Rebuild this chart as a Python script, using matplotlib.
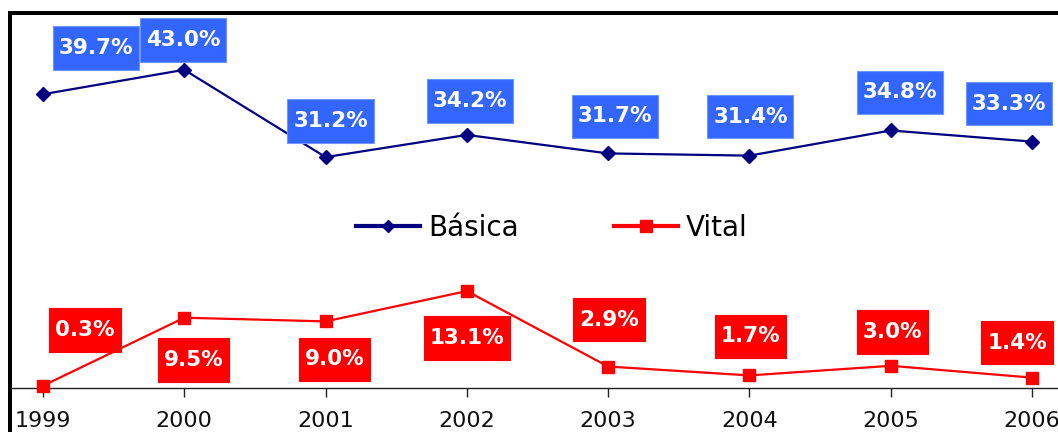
import matplotlib
matplotlib.use("Agg")
import matplotlib.pyplot as plt
from matplotlib.lines import Line2D
from matplotlib.path import Path

years = [1999, 2000, 2001, 2002, 2003, 2004, 2005, 2006]
basica = [39.7, 43.0, 31.2, 34.2, 31.7, 31.4, 34.8, 33.3]
vital = [0.3, 9.5, 9.0, 13.1, 2.9, 1.7, 3.0, 1.4]

# label offsets in pixels from each point
basica_off = [(53, 46), (-1, 30), (5, 36), (3, 34), (7, 37), (1, 39), (9, 38), (-23, 38)]
vital_off = [(42, 56), (9, -42), (9, -38), (0, -47), (1, 47), (1, 39), (2, 34), (-15, 35)]

NAVY = "#000080"
BLUE_BOX = "#3366FF"
RED = "#FF0000"


def label_box(x0, y0, width, height, mutation_size):
    # rectangle with more vertical than horizontal padding
    px = 0.27 * mutation_size
    py = 0.55 * mutation_size
    x0, x1 = x0 - px, x0 + width + px
    y0, y1 = y0 - py, y0 + height + py
    verts = [(x0, y0), (x1, y0), (x1, y1), (x0, y1), (x0, y0)]
    codes = [Path.MOVETO, Path.LINETO, Path.LINETO, Path.LINETO, Path.CLOSEPOLY]
    return Path(verts, codes)


W, H = 1058, 432
fig = plt.figure(figsize=(W / 100, H / 100), dpi=100)
fig.patch.set_facecolor("white")

# plot area: zero line at y=388px, top at 15px
ax = fig.add_axes([12 / W, (H - 388) / H, (W - 12) / W, (388 - 15) / H])
ax.set_xlim(1999 - 31 / 141.3, 2006 + 26 / 141.3)
ax.set_ylim(0, (388 - 15) / 7.4)

ax.plot(years, basica, color=NAVY, lw=1.6, marker="D", ms=7, clip_on=False, zorder=3)
ax.plot(years, vital, color=RED, lw=1.6, marker="s", ms=8, clip_on=False, zorder=3)

for x, v, (dx, dy) in zip(years, basica, basica_off):
    ax.annotate(f"{v:.1f}%", (x, v), xytext=(dx, dy), textcoords="offset pixels",
                ha="center", va="center", color="white", fontsize=15.5, fontweight="bold",
                bbox=dict(boxstyle=label_box, fc=BLUE_BOX, ec="#6F95FF", lw=0.8),
                zorder=4, annotation_clip=False)

for x, v, (dx, dy) in zip(years, vital, vital_off):
    ax.annotate(f"{v:.1f}%", (x, v), xytext=(dx, dy), textcoords="offset pixels",
                ha="center", va="center", color="white", fontsize=15.5, fontweight="bold",
                bbox=dict(boxstyle=label_box, fc=RED, ec=RED, lw=0.8),
                zorder=4, annotation_clip=False)

for s in ("left", "top", "right"):
    ax.spines[s].set_visible(False)
ax.spines["bottom"].set_color("#222222")
ax.spines["bottom"].set_linewidth(1.0)
ax.set_yticks([])
ax.set_xticks(years)
ax.set_xticklabels([str(y) for y in years])
ax.tick_params(axis="x", direction="out", length=6.5, width=1.0, color="#222222",
               pad=10, labelsize=16, labelcolor="#111111")

handles = [
    Line2D([], [], color=NAVY, lw=3, marker="D", ms=6),
    Line2D([], [], color=RED, lw=3, marker="s", ms=8),
]
fig.legend(handles, ["Básica", "Vital"], loc="center", ncol=2, frameon=False,
           bbox_to_anchor=(552 / W, 1 - 228 / H), bbox_transform=fig.transFigure,
           fontsize=20, handlelength=2.3, handletextpad=0.3, columnspacing=3.4)

# thick outer border along top and left
fig.patches.append(plt.Rectangle((8 / W, 0), 4 / W, (H - 11) / H, transform=fig.transFigure,
                                 fc="black", ec="none", zorder=5))
fig.patches.append(plt.Rectangle((8 / W, (H - 15) / H), (W - 8) / W, 4 / H,
                                 transform=fig.transFigure, fc="black", ec="none", zorder=5))

fig.savefig("out.png", dpi=100)
